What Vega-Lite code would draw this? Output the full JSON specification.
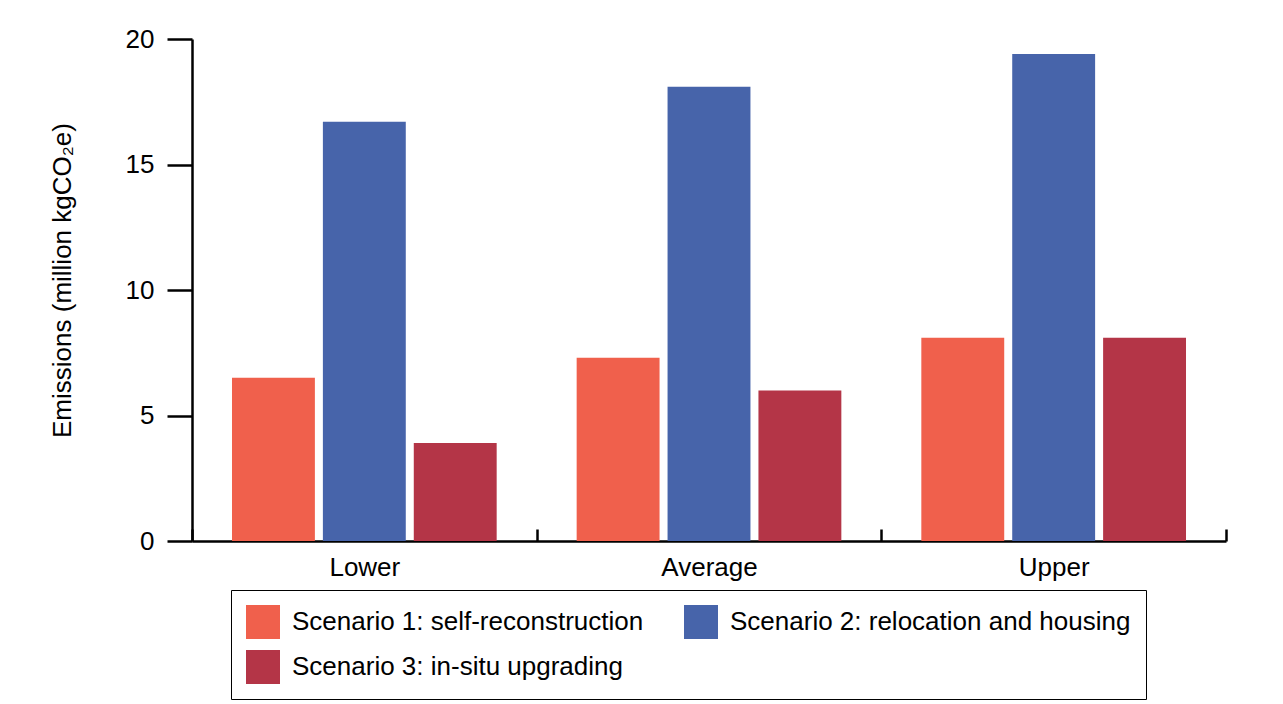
{
  "$schema": "https://vega.github.io/schema/vega-lite/v6.json",
  "autosize": "none",
  "width": 1034,
  "height": 502,
  "padding": {"left": 192, "top": 39, "right": 57, "bottom": 163},
  "background": "white",
  "config": {"view": {"stroke": null}, "font": "Liberation Sans"},
  "data": {
    "values": [
      {"range": "Lower", "scenario": "Scenario 1: self-reconstruction", "emissions": 6.5},
      {"range": "Lower", "scenario": "Scenario 2: relocation and housing", "emissions": 16.7},
      {"range": "Lower", "scenario": "Scenario 3: in-situ upgrading", "emissions": 3.9},
      {"range": "Average", "scenario": "Scenario 1: self-reconstruction", "emissions": 7.3},
      {"range": "Average", "scenario": "Scenario 2: relocation and housing", "emissions": 18.1},
      {"range": "Average", "scenario": "Scenario 3: in-situ upgrading", "emissions": 6.0},
      {"range": "Upper", "scenario": "Scenario 1: self-reconstruction", "emissions": 8.1},
      {"range": "Upper", "scenario": "Scenario 2: relocation and housing", "emissions": 19.4},
      {"range": "Upper", "scenario": "Scenario 3: in-situ upgrading", "emissions": 8.1}
    ]
  },
  "mark": {"type": "bar"},
  "encoding": {
    "x": {
      "field": "range", "type": "nominal", "sort": ["Lower", "Average", "Upper"],
      "scale": {"paddingInner": 0, "paddingOuter": 0},
      "axis": {
        "title": null, "labelAngle": 0, "labelFontSize": 26, "labelColor": "black",
        "domainColor": "black", "domainWidth": 2.5, "tickColor": "black", "tickWidth": 2.5,
        "tickSize": -12, "tickBand": "extent", "labelPadding": 25
      }
    },
    "xOffset": {
      "field": "scenario", "type": "nominal",
      "scale": {"paddingInner": 0.088, "paddingOuter": 0.44}
    },
    "y": {
      "field": "emissions", "type": "quantitative",
      "scale": {"domain": [0, 20]},
      "axis": {
        "values": [0, 5, 10, 15, 20], "grid": false,
        "title": "Emissions (million kgCO₂e)", "titleFontSize": 26, "titleFontWeight": "normal",
        "titleColor": "black", "titlePadding": 50, "titleY": 241,
        "labelFontSize": 26, "labelColor": "black", "labelPadding": 13,
        "tickSize": 25, "tickWidth": 2.5, "tickColor": "black",
        "domainColor": "black", "domainWidth": 2.5
      }
    },
    "color": {
      "field": "scenario", "type": "nominal",
      "scale": {
        "domain": ["Scenario 1: self-reconstruction", "Scenario 2: relocation and housing", "Scenario 3: in-situ upgrading"],
        "range": ["#F0604C", "#4764AA", "#B43547"]
      },
      "legend": {
        "title": null, "orient": "none", "legendX": 39, "legendY": 551,
        "columns": 2, "direction": "horizontal",
        "symbolType": "square", "symbolSize": 1156, "symbolStrokeWidth": 0, "symbolOpacity": 1,
        "labelFontSize": 26, "labelColor": "black", "labelOffset": 12, "labelLimit": 600,
        "columnPadding": 40, "rowPadding": 11, "padding": 15,
        "strokeColor": "black"
      }
    }
  }
}
